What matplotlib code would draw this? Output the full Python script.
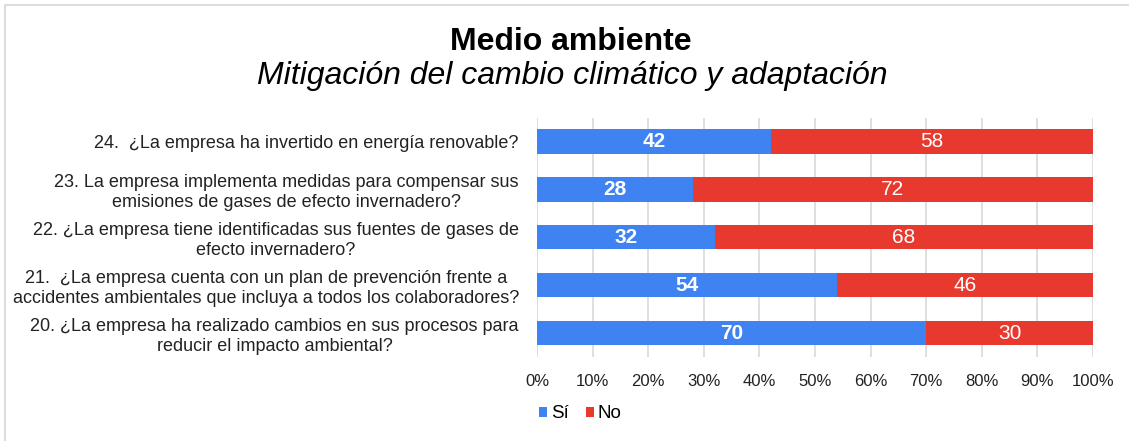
import matplotlib
matplotlib.use('Agg')
import matplotlib.pyplot as plt
from matplotlib.patches import Rectangle
import numpy as np

plt.rcParams['font.family'] = ['Liberation Sans', 'DejaVu Sans']

questions = [
    '20. ¿La empresa ha realizado cambios en sus procesos para\nreducir el impacto ambiental?',
    '21.  ¿La empresa cuenta con un plan de prevención frente a\naccidentes ambientales que incluya a todos los colaboradores?',
    '22. ¿La empresa tiene identificadas sus fuentes de gases de\nefecto invernadero?',
    '23. La empresa implementa medidas para compensar sus\nemisiones de gases de efecto invernadero?',
    '24.  ¿La empresa ha invertido en energía renovable?',
]
si = [70, 54, 32, 28, 42]
no = [30, 46, 68, 72, 58]
ticks = [0, 10, 20, 30, 40, 50, 60, 70, 80, 90, 100]

blue = '#3f82f2'
red = '#e8392f'

fig = plt.figure(figsize=(11.29, 4.41), dpi=100)
ax = fig.add_axes([537 / 1129, 1 - 357 / 441, 556 / 1129, 239 / 441])

y = np.arange(len(questions))
ax.barh(y, si, height=0.52, color=blue, label='Sí', zorder=3)
ax.barh(y, no, left=si, height=0.52, color=red, label='No', zorder=3)

for i in range(len(y)):
    ax.text(si[i] / 2, y[i], str(si[i]), ha='center', va='center',
            color='white', fontsize=15, fontweight='bold', zorder=4)
    ax.text(si[i] + no[i] / 2, y[i], str(no[i]), ha='center', va='center',
            color='white', fontsize=15, zorder=4)

ax.set_xlim(0, 100)
ax.set_ylim(-0.5, 4.48)
ax.set_xticks(ticks)
ax.set_xticklabels(['%d%%' % t for t in ticks], fontsize=12, color='#222222')
ax.set_yticks(y)
ax.set_yticklabels(questions, fontsize=13, color='#222222', multialignment='center',
                   linespacing=1.2)
ax.tick_params(axis='both', length=0)
ax.tick_params(axis='y', pad=13)
ax.tick_params(axis='x', pad=12)
ax.grid(axis='x', color='#d9d9d9', linewidth=1.2, zorder=0)
for s in ax.spines.values():
    s.set_visible(False)

fig.text(571 / 1129, 1 - 42 / 441, 'Medio ambiente', ha='center', va='center',
         fontsize=23, fontweight='bold')
fig.text(572 / 1129, 1 - 76 / 441, 'Mitigación del cambio climático y adaptación',
         ha='center', va='center', fontsize=23, style='italic')

leg = fig.legend(loc='center left', bbox_to_anchor=(522 / 1129, 1 - 414 / 441),
                 ncol=2, frameon=False, fontsize=13.5, handlelength=0.45,
                 handleheight=0.45, handletextpad=0.2, columnspacing=0.9)

fig.patches.append(Rectangle((5 / 1129, -0.1), 1.2, 1 - 5 / 441 + 0.1,
                             transform=fig.transFigure, fill=False,
                             edgecolor='#dddddd', linewidth=1.5))

fig.savefig('out.png', dpi=100)
